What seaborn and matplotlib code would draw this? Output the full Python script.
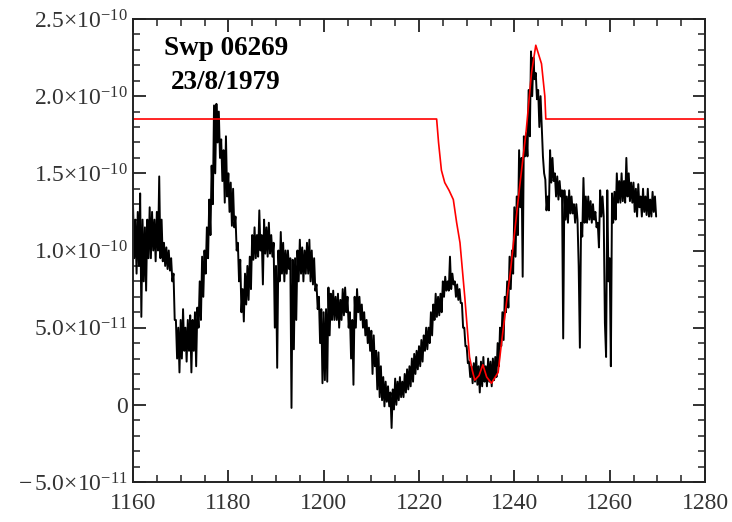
import numpy as np
import pandas as pd
import matplotlib
matplotlib.use("Agg")
import matplotlib.pyplot as plt
import seaborn as sns
from matplotlib.ticker import MultipleLocator, FixedLocator

# ---- data (flux in units of 1e-11), read per 0.5 A bin: upper / lower edge ----
wl_start = 1160.0
wl_step = 0.5
flux_hi = [
    13.0, 12.0, 12.5, 13.7, 12.0, 11.5, 12.0, 12.8, 12.5, 12.0,
    12.5, 14.8, 12.0, 10.5, 10.2, 10.0, 9.5, 8.5, 5.5, 5.0,
    5.5, 6.2, 5.0, 5.5, 5.8, 5.5, 6.0, 6.3, 8.0, 9.6,
    10.0, 11.5, 13.3, 15.5, 19.4, 19.5, 19.0, 17.2, 16.5, 17.4,
    15.0, 14.4, 14.0, 12.2, 10.5, 9.4, 7.5, 8.5, 9.0, 9.6,
    11.0, 11.5, 11.0, 12.6, 11.0, 12.0, 11.5, 11.8, 11.0, 10.5,
    9.0, 10.0, 11.2, 10.5, 10.0, 10.0, 9.5, 9.4, 9.5, 10.0,
    10.7, 10.2, 10.0, 10.5, 10.7, 10.0, 9.5, 7.8, 7.0, 6.2,
    6.0, 6.2, 7.6, 7.2, 7.4, 7.0, 7.2, 6.8, 7.5, 7.6,
    7.0, 6.0, 5.5, 7.0, 7.5, 7.0, 6.5, 6.0, 5.5, 5.0,
    4.8, 4.5, 3.5, 3.4, 2.5, 1.8, 1.5, 1.2, 0.8, 1.0,
    1.7, 1.5, 1.8, 1.5, 2.0, 2.3, 2.5, 3.0, 3.3, 3.5,
    3.8, 4.2, 4.5, 5.0, 5.0, 6.0, 6.5, 7.2, 7.0, 7.2,
    8.0, 8.3, 8.0, 9.6, 8.5, 8.0, 7.8, 7.5, 6.6, 5.0,
    3.8, 2.8, 2.5, 2.7, 3.1, 2.5, 2.8, 3.1, 2.5, 3.0,
    2.8, 3.0, 3.1, 4.0, 5.0, 6.0, 7.0, 8.0, 9.6, 10.0,
    12.8, 13.5, 16.5, 16.0, 17.4, 17.6, 20.4, 22.9, 22.5, 21.5,
    20.4, 20.0, 16.1, 14.6, 13.5, 16.5, 16.0, 15.0, 14.8, 14.5,
    13.9, 13.9, 13.5, 13.9, 13.5, 13.0, 13.0, 9.0, 11.8, 14.7,
    13.5, 13.5, 13.2, 13.0, 12.5, 11.8, 13.9, 13.5, 5.3, 13.9,
    9.5, 13.7, 13.8, 15.0, 14.5, 15.0, 14.5, 16.0, 15.0, 14.4,
    14.4, 14.0, 14.3, 13.5, 14.0, 13.5, 14.0, 13.3, 13.8, 13.5,
]
flux_lo = [
    9.5, 8.5, 9.0, 5.7, 8.0, 7.4, 9.5, 9.5, 10.0, 9.3,
    10.0, 9.5, 9.3, 9.0, 8.8, 8.7, 8.0, 5.5, 3.0, 2.1,
    3.0, 3.5, 2.8, 3.5, 2.1, 3.5, 2.5, 5.0, 5.5, 7.0,
    8.5, 9.5, 11.0, 13.0, 15.0, 17.0, 16.0, 14.5, 13.1, 13.5,
    12.5, 11.6, 11.5, 10.0, 8.0, 6.0, 5.4, 6.5, 6.8, 7.5,
    9.4, 9.5, 9.6, 10.0, 7.8, 9.8, 9.6, 9.8, 9.6, 5.0,
    2.4, 8.0, 8.5, 8.0, 8.5, 8.8, -0.2, 3.6, 5.5, 8.0,
    8.5, 8.0, 8.5, 8.5, 8.0, 7.8, 7.4, 6.2, 4.0, 1.4,
    1.6, 1.5, 4.5, 5.5, 5.5, 5.5, 5.0, 5.5, 5.8, 6.0,
    5.0, 3.0, 1.3, 5.0, 6.0, 5.5, 5.0, 4.5, 4.0, 3.5,
    2.0, 2.5, 1.0, 0.5, 0.3, -0.1, 0.2, -0.1, -1.5, -0.3,
    0.0, 0.3, 0.5, 0.5, 0.8, 1.0, 1.2, 1.5, 2.0, 2.3,
    2.5, 2.8, 3.5, 3.6, 4.0, 4.5, 5.5, 5.7, 5.8, 6.0,
    7.0, 7.4, 7.4, 7.5, 7.8, 7.0, 6.8, 6.6, 5.0, 3.8,
    2.7, 1.8, 1.4, 1.5, 1.3, 0.8, 1.2, 1.5, 1.2, 1.5,
    1.2, 1.6, 1.8, 2.5, 3.8, 4.2, 6.0, 6.3, 7.5, 8.5,
    9.6, 11.0, 12.8, 8.3, 16.1, 16.1, 17.4, 20.0, 21.1, 19.8,
    18.0, 18.0, 15.0, 12.6, 12.6, 14.4, 14.5, 13.5, 13.3, 13.5,
    4.3, 12.0, 11.8, 12.4, 12.4, 11.8, 12.0, 3.7, 10.9, 11.8,
    11.8, 12.0, 11.8, 12.0, 11.5, 10.2, 12.2, 12.2, 3.1, 8.0,
    2.5, 11.8, 12.0, 13.1, 13.1, 13.2, 13.1, 13.5, 13.2, 13.1,
    12.5, 12.2, 12.8, 12.2, 12.5, 12.3, 12.2, 12.2, 12.5, 12.2,
]

model_wl = [1160.0, 1223.7, 1224.1, 1224.7, 1225.4, 1226.3, 1227.2, 1227.9,
            1228.6, 1229.6, 1230.6, 1231.2, 1231.7, 1232.6, 1233.4, 1234.2,
            1235.2, 1236.6, 1237.3, 1238.3, 1239.2, 1240.1, 1241.1, 1242.5,
            1243.6, 1244.5, 1245.7, 1246.4, 1246.6, 1280.0]
model_flux = [18.52, 18.52, 17.0, 15.2, 14.4, 13.9, 13.3, 11.8,
              10.5, 7.0, 3.1, 2.2, 1.6, 1.9, 2.6, 1.8,
              1.4, 2.1, 4.0, 6.5, 8.7, 11.3, 14.1, 17.8,
              21.5, 23.3, 22.1, 20.0, 18.52, 18.52]

ytick_vals = [-5e-11, 0, 5e-11, 1.0e-10, 1.5e-10, 2.0e-10, 2.5e-10]
ytick_labels = [r"$-\,$5.0$\times$10$^{-11}$", "0", r"5.0$\times$10$^{-11}$",
                r"1.0$\times$10$^{-10}$", r"1.5$\times$10$^{-10}$",
                r"2.0$\times$10$^{-10}$", r"2.5$\times$10$^{-10}$"]
xtick_vals = [1160, 1180, 1200, 1220, 1240, 1260, 1280]
title_lines = ["Swp 06269", "23/8/1979"]

# interleave upper/lower readings of each bin (upper at bin start, lower a quarter step later)
bin_wl = wl_start + wl_step * np.arange(len(flux_hi))
obs_wl = np.column_stack([bin_wl, bin_wl + wl_step / 2]).ravel()
obs_flux = np.column_stack([flux_hi, flux_lo]).ravel() * 1e-11
obs = pd.DataFrame({"wl": obs_wl, "flux": obs_flux})
mod = pd.DataFrame({"wl": model_wl, "flux": np.array(model_flux) * 1e-11})

# ---- style ----
sns.set_style("ticks")
plt.rcParams["font.family"] = ["Liberation Serif", "DejaVu Serif"]
plt.rcParams["mathtext.fontset"] = "custom"
plt.rcParams["mathtext.rm"] = "Liberation Serif"
plt.rcParams["mathtext.it"] = "Liberation Serif:italic"
plt.rcParams["mathtext.bf"] = "Liberation Serif:bold"
plt.rcParams["mathtext.default"] = "rm"

fig = plt.figure(figsize=(7.32, 5.22), dpi=100)
ax = fig.add_axes([133 / 732, 1 - 482 / 522, (705 - 133) / 732, (482 - 19) / 522])

sns.lineplot(data=obs, x="wl", y="flux", ax=ax, color="black", linewidth=1.4,
             estimator=None, sort=False)
sns.lineplot(data=mod, x="wl", y="flux", ax=ax, color="#ff0000", linewidth=1.2,
             estimator=None, sort=False)

ax.set_xlim(1160, 1280)
ax.set_ylim(-5e-11, 2.5e-10)
ax.set_xlabel("")
ax.set_ylabel("")

ax.xaxis.set_major_locator(FixedLocator(xtick_vals))
ax.set_xticklabels([str(v) for v in xtick_vals])
ax.xaxis.set_minor_locator(MultipleLocator(5))
ax.yaxis.set_major_locator(FixedLocator(ytick_vals))
ax.set_yticklabels(ytick_labels)
ax.yaxis.set_minor_locator(MultipleLocator(1e-11))

ax.tick_params(which="both", direction="in", top=True, right=True,
               colors="#222222", labelcolor="#333333")
ax.tick_params(which="major", length=9, width=1.3, labelsize=17)
ax.tick_params(which="minor", length=5, width=1.1)
ax.tick_params(axis="x", which="major", pad=8)
ax.tick_params(axis="y", which="major", pad=4)
for sp in ax.spines.values():
    sp.set_linewidth(1.4)
    sp.set_color("#222222")

ax.text(1179.5, 2.31e-10, title_lines[0], fontsize=19.5, fontweight="bold",
        ha="center", va="center", color="black")
ax.text(1179.5, 2.09e-10, title_lines[1], fontsize=19.5, fontweight="bold",
        ha="center", va="center", color="black")

fig.savefig("out.png", dpi=100, facecolor="white")
